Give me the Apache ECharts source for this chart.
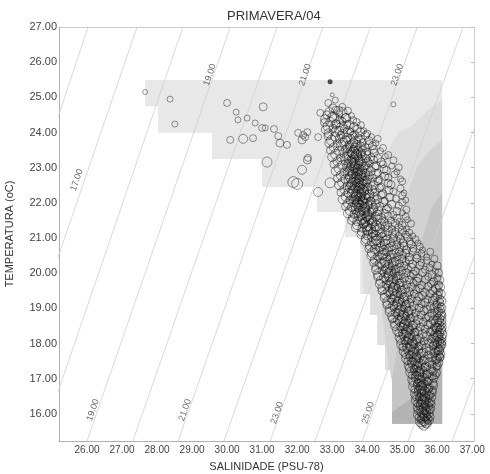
<!DOCTYPE html>
<html>
<head>
<meta charset="utf-8">
<script src="https://cdn.jsdelivr.net/npm/echarts@6/dist/echarts.min.js"></script>
<style>html,body{margin:0;padding:0;background:#fff;}#c{width:490px;height:474px;}</style>
</head>
<body>
<div id="c"></div>
<script>
// ---- axis ticks ----
const xTicks = [26,27,28,29,30,31,32,33,34,35,36,37];
const yTicks = [16,17,18,19,20,21,22,23,24,25,26,27];
const xRange = [25.2, 37.05];
const yRange = [15.23, 27];

// ---- isopycnals (sigma-t), salinity where each line meets the bottom and top of the plot ----
const isoSigma   = [16, 17, 18, 19, 20, 21, 22, 23, 24, 25, 26, 27];
const isoSBottom = [22.09, 23.37, 24.69, 26.0, 27.31, 28.6, 29.91, 31.23, 32.51, 33.86, 35.17, 36.43];
const isoSTop    = [26.03, 27.43, 28.74, 30.09, 31.43, 32.74, 34.09, 35.43, 36.74, 38.09, 39.4, 40.71];

// ---- isopycnal labels ----
const isoLabelText = ['17.00', '19.00', '21.00', '23.00', '19.00', '21.00', '23.00', '25.00'];
const isoLabelS    = [25.71, 29.51, 32.23, 34.86, 26.17, 28.8, 31.43, 34.03];
const isoLabelT    = [22.65, 25.64, 25.64, 25.64, 16.11, 16.11, 16.03, 16.03];

// ---- grey shaded background levels (S,T vertices) ----
const shadeOuter = [[27.66,25.49],[36.14,25.49],[36.14,15.72],[34.71,15.72],[34.71,17.25],[34.51,17.25],[34.51,17.96],[34.29,17.96],[34.29,18.81],[34.09,18.81],[34.09,19.41],[33.8,19.41],[33.8,21.03],[33.37,21.03],[33.37,21.74],[32.57,21.74],[32.57,22.45],[31.0,22.45],[31.0,23.25],[29.57,23.25],[29.57,23.99],[28.03,23.99],[28.03,24.75],[27.66,24.75]];
const shadeLevel2 = [[36.14,24.93],[35.74,24.64],[35.29,24.19],[34.89,23.99],[34.6,23.5],[34.31,22.79],[34.03,21.94],[33.86,21.09],[33.86,20.3],[33.9,19.41],[34.09,19.41],[34.09,18.81],[34.29,18.81],[34.29,17.96],[34.51,17.96],[34.51,17.25],[34.71,17.25],[34.71,15.72],[36.14,15.72]];
const shadeLevel3 = [[36.14,23.79],[35.8,23.5],[35.46,23.08],[35.23,22.51],[35.0,21.66],[34.8,20.8],[34.55,19.8],[34.42,18.9],[34.51,18.2],[34.62,17.4],[34.71,16.9],[34.71,15.72],[36.14,15.72]];
const shadeLevel4 = [[36.14,22.3],[35.86,21.9],[35.6,21.1],[35.35,20.2],[35.1,19.2],[34.92,18.3],[34.8,17.5],[34.71,17.0],[34.71,15.72],[36.14,15.72]];
const shadeLevel5 = [[36.14,18.6],[35.95,17.9],[35.65,17.1],[35.2,16.4],[34.71,16.05],[34.71,15.72],[36.14,15.72]];
const shadeColors = ['#e8e8e8', '#dedede', '#d2d2d2', '#c5c5c5', '#b3b3b3'];

// ---- observations: [salinity, temperature, circle size] ----
const sparseObs = [
[27.66,25.15,5],[28.37,24.95,6],[28.51,24.24,6],[30.0,24.84,7],[30.26,24.58,6],[30.31,24.36,6],[30.57,24.41,6],
[30.8,24.27,6],[31.0,24.13,7],[31.09,24.13,6],[31.34,24.1,7],[31.46,23.9,7],[31.51,23.7,8],[31.71,23.65,7],
[31.03,24.73,8],[30.09,23.79,7],[30.46,23.82,9],[30.74,23.84,7],[31.14,23.16,10],[32.0,22.54,11],[31.89,22.59,11],
[32.14,22.94,9],[32.6,22.31,9],[32.94,22.57,10],[32.31,23.28,7],[32.23,23.87,7],[32.6,23.87,7],[32.66,24.56,7],
[33.0,25.07,4],[32.14,23.79,8],[32.17,23.93,7],[32.29,23.22,8],[32.03,23.99,7],[32.29,24.01,7],[34.75,24.8,5]
];
const filledObs = [[32.94,25.44,5]];
const bandObs = [
[32.89,24.84,7],[33.09,24.92,6],[33.29,24.73,7],[33.02,24.7,8],[33.18,24.62,9],
[32.85,24.5,8],[33.0,24.45,9],[33.2,24.52,7],[33.38,24.42,8],[33.55,24.48,6],
[32.78,24.28,8],[32.95,24.3,9],[33.12,24.25,8],[33.3,24.32,7],[33.48,24.22,9],[33.7,24.3,7],
[32.82,24.08,9],[33.02,24.12,8],[33.2,24.05,9],[33.35,24.1,8],[33.52,24.02,7],[33.72,24.1,8],[33.9,24.05,6],
[32.88,23.9,8],[33.08,23.88,9],[33.25,23.92,8],[33.42,23.85,9],[33.58,23.9,8],[33.75,23.86,7],[33.95,23.92,8],[34.12,23.88,6],
[32.92,23.7,9],[33.15,23.68,8],[33.32,23.72,9],[33.48,23.65,8],[33.6,23.7,9],[33.72,23.66,8],[33.88,23.72,7],[34.05,23.66,8],[34.25,23.7,6],
[32.95,23.5,8],[33.2,23.48,9],[33.38,23.52,8],[33.52,23.46,9],[33.62,23.52,8],[33.74,23.48,9],[33.86,23.5,8],[34.0,23.45,7],[34.18,23.52,8],[34.38,23.48,6],
[33.0,23.3,9],[33.25,23.28,8],[33.42,23.32,9],[33.55,23.26,8],[33.64,23.32,9],[33.75,23.28,8],[33.85,23.33,9],[33.97,23.26,8],[34.12,23.3,7],[34.3,23.27,8],[34.52,23.32,6],
[33.05,23.1,8],[33.3,23.08,9],[33.45,23.12,8],[33.56,23.06,9],[33.65,23.12,10],[33.74,23.07,8],[33.83,23.12,9],[33.95,23.06,8],[34.08,23.12,7],[34.25,23.06,8],[34.45,23.1,7],[34.7,23.05,6],
[33.1,22.9,9],[33.35,22.88,8],[33.5,22.92,9],[33.6,22.86,10],[33.68,22.92,9],[33.76,22.87,8],[33.85,22.93,9],[33.96,22.86,8],[34.1,22.9,9],[34.3,22.86,7],[34.55,22.92,8],[34.85,22.88,6],
[33.15,22.7,8],[33.38,22.68,9],[33.52,22.72,10],[33.62,22.66,9],[33.7,22.72,10],[33.78,22.67,9],[33.88,22.73,8],[34.0,22.66,9],[34.15,22.7,8],[34.35,22.66,7],[34.6,22.72,7],[34.95,22.68,6],
[33.2,22.5,9],[33.42,22.48,8],[33.55,22.52,10],[33.64,22.46,9],[33.72,22.52,10],[33.8,22.47,9],[33.9,22.53,9],[34.02,22.46,8],[34.18,22.5,9],[34.4,22.46,7],[34.68,22.52,8],
[33.25,22.3,8],[33.46,22.28,9],[33.58,22.32,10],[33.67,22.26,9],[33.75,22.32,10],[33.83,22.27,9],[33.93,22.33,8],[34.06,22.26,9],[34.22,22.3,8],[34.45,22.26,8],[34.75,22.32,7],[35.05,22.28,6],
[33.3,22.1,9],[33.5,22.08,8],[33.62,22.12,10],[33.7,22.06,9],[33.78,22.12,10],[33.87,22.07,9],[33.97,22.13,9],[34.1,22.06,8],[34.28,22.1,9],[34.5,22.06,7],[34.82,22.12,7],[35.1,22.08,6],
[33.38,21.9,8],[33.56,21.88,9],[33.67,21.92,10],[33.76,21.86,9],[33.84,21.92,10],[33.93,21.87,9],[34.04,21.93,8],[34.18,21.86,9],[34.36,21.9,8],[34.6,21.86,7],[34.9,21.92,7],
[33.45,21.7,9],[33.62,21.68,8],[33.74,21.72,10],[33.83,21.66,9],[33.92,21.72,10],[34.02,21.67,9],[34.14,21.73,8],[34.3,21.66,9],[34.5,21.7,8],[34.75,21.66,7],[35.0,21.72,6],
[33.55,21.5,8],[33.72,21.48,9],[33.84,21.52,10],[33.94,21.46,9],[34.04,21.52,9],[34.16,21.47,8],[34.3,21.53,9],[34.48,21.46,8],[34.68,21.5,7],[34.92,21.46,7],[35.15,21.52,6],
[33.68,21.3,9],[33.85,21.28,8],[33.98,21.32,9],[34.1,21.26,9],[34.22,21.32,8],[34.36,21.27,9],[34.52,21.33,8],[34.7,21.26,7],[34.9,21.3,8],[35.12,21.26,6],
[33.82,21.1,8],[34.0,21.08,9],[34.14,21.12,8],[34.26,21.06,9],[34.4,21.12,8],[34.55,21.07,9],[34.72,21.13,8],[34.9,21.06,7],[35.1,21.1,7],[35.3,21.06,6],
[33.95,20.9,9],[34.12,20.88,8],[34.25,20.92,9],[34.38,20.86,8],[34.52,20.92,9],[34.68,20.87,8],[34.85,20.93,7],[35.02,20.86,8],[35.22,20.9,7],[35.45,20.86,6],
[34.05,20.7,8],[34.22,20.68,9],[34.35,20.72,8],[34.48,20.66,9],[34.62,20.72,8],[34.78,20.67,9],[34.95,20.73,7],[35.12,20.66,8],[35.32,20.7,7],[35.58,20.66,6],
[34.12,20.5,9],[34.3,20.48,8],[34.44,20.52,9],[34.56,20.46,8],[34.7,20.52,9],[34.86,20.47,8],[35.02,20.53,7],[35.2,20.46,8],[35.42,20.5,7],[35.7,20.46,6],
[34.18,20.3,8],[34.36,20.28,9],[34.5,20.32,9],[34.62,20.26,8],[34.76,20.32,9],[34.92,20.27,8],[35.1,20.33,7],[35.3,20.26,8],[35.55,20.3,7],[35.85,20.26,6],
[34.25,20.1,9],[34.42,20.08,8],[34.56,20.12,10],[34.68,20.06,9],[34.82,20.12,8],[34.98,20.07,9],[35.16,20.13,7],[35.38,20.06,8],[35.65,20.1,7],[35.95,20.06,6],
[34.3,19.9,8],[34.48,19.88,9],[34.62,19.92,10],[34.74,19.86,9],[34.88,19.92,8],[35.05,19.87,9],[35.24,19.93,7],[35.46,19.86,8],[35.74,19.9,7],[36.0,19.86,7],
[34.36,19.7,9],[34.54,19.68,8],[34.68,19.72,10],[34.8,19.66,9],[34.94,19.72,8],[35.12,19.67,8],[35.32,19.73,7],[35.56,19.66,8],[35.82,19.7,7],[36.04,19.66,8],
[34.42,19.5,8],[34.6,19.48,9],[34.74,19.52,10],[34.86,19.46,9],[35.0,19.52,8],[35.18,19.47,9],[35.4,19.53,7],[35.64,19.46,8],[35.88,19.5,8],[36.06,19.46,7],
[34.5,19.3,9],[34.68,19.28,8],[34.8,19.32,10],[34.92,19.26,9],[35.06,19.32,9],[35.25,19.27,8],[35.48,19.33,8],[35.72,19.26,7],[35.94,19.3,8],[36.08,19.26,8],
[34.56,19.1,8],[34.74,19.08,9],[34.86,19.12,10],[34.98,19.06,9],[35.12,19.12,8],[35.32,19.07,9],[35.55,19.13,7],[35.8,19.06,8],[35.98,19.1,8],[36.1,19.06,7],
[34.64,18.9,9],[34.8,18.88,8],[34.92,18.92,10],[35.04,18.86,9],[35.18,18.92,9],[35.38,18.87,8],[35.62,18.93,8],[35.85,18.86,8],[36.02,18.9,9],[36.12,18.86,8],
[34.72,18.7,8],[34.88,18.68,9],[35.0,18.72,10],[35.1,18.66,9],[35.24,18.72,8],[35.45,18.67,9],[35.68,18.73,7],[35.9,18.66,9],[36.04,18.7,10],[36.12,18.66,9],
[34.8,18.5,9],[34.95,18.48,8],[35.06,18.52,10],[35.16,18.46,9],[35.3,18.52,9],[35.52,18.47,8],[35.74,18.53,8],[35.94,18.46,9],[36.05,18.5,10],[36.13,18.46,9],
[34.9,18.3,8],[35.02,18.28,9],[35.12,18.32,10],[35.22,18.26,9],[35.36,18.32,8],[35.58,18.27,9],[35.8,18.33,8],[35.96,18.26,10],[36.06,18.3,9],[36.13,18.26,10],
[34.96,18.1,9],[35.08,18.08,8],[35.18,18.12,10],[35.28,18.06,9],[35.42,18.12,9],[35.62,18.07,8],[35.84,18.13,8],[35.98,18.06,10],[36.07,18.1,9],[36.14,18.06,8],
[35.02,17.9,8],[35.14,17.88,9],[35.24,17.92,10],[35.34,17.86,9],[35.48,17.92,8],[35.68,17.87,9],[35.88,17.93,8],[36.0,17.86,10],[36.08,17.9,9],
[35.1,17.7,9],[35.2,17.68,8],[35.3,17.72,10],[35.4,17.66,9],[35.55,17.72,9],[35.74,17.67,8],[35.92,17.73,9],[36.03,17.66,9],[36.1,17.7,8],
[35.16,17.5,8],[35.28,17.48,9],[35.36,17.52,10],[35.46,17.46,9],[35.6,17.52,8],[35.78,17.47,9],[35.95,17.53,8],[36.05,17.46,8],
[35.22,17.3,9],[35.34,17.28,8],[35.42,17.32,10],[35.52,17.26,9],[35.65,17.32,8],[35.82,17.27,9],[35.98,17.33,7],
[35.28,17.1,8],[35.4,17.08,9],[35.48,17.12,10],[35.57,17.06,9],[35.7,17.12,8],[35.86,17.07,8],[35.96,17.1,7],
[35.32,16.9,9],[35.44,16.88,8],[35.52,16.92,10],[35.6,16.86,9],[35.72,16.92,8],[35.88,16.87,8],
[35.36,16.7,8],[35.48,16.68,9],[35.55,16.72,10],[35.63,16.66,9],[35.75,16.72,8],[35.88,16.67,7],
[35.4,16.5,9],[35.5,16.48,8],[35.57,16.52,10],[35.65,16.46,9],[35.76,16.52,8],[35.86,16.47,7],
[35.44,16.3,8],[35.53,16.28,9],[35.6,16.32,10],[35.67,16.26,9],[35.77,16.32,8],[35.84,16.27,7],
[35.47,16.1,9],[35.55,16.08,10],[35.62,16.12,10],[35.69,16.06,9],[35.78,16.12,8],
[35.5,15.9,9],[35.58,15.88,10],[35.65,15.92,10],[35.72,15.86,9],[35.8,15.92,8],
[35.55,15.72,9],[35.62,15.68,10],[35.7,15.72,9]
];
const bandObs2 = [
[32.92,24.58,9],[33.1,24.63,8],[33.28,24.57,10],[33.45,24.62,7],
[32.8,24.38,9],[33.05,24.43,10],[33.22,24.36,8],[33.4,24.41,9],[33.6,24.35,7],
[32.88,24.18,10],[33.1,24.23,9],[33.28,24.16,10],[33.42,24.22,8],[33.62,24.15,9],[33.82,24.21,7],
[32.9,23.98,9],[33.12,24.03,10],[33.3,23.96,9],[33.46,24.02,10],[33.64,23.95,8],[33.8,24.01,9],[34.0,23.97,7],
[32.98,23.78,10],[33.22,23.83,9],[33.38,23.76,10],[33.52,23.82,9],[33.66,23.75,10],[33.82,23.81,8],[34.05,23.77,8],[34.3,23.82,7],
[33.05,23.58,9],[33.26,23.63,10],[33.44,23.56,9],[33.56,23.62,11],[33.68,23.55,10],[33.8,23.61,9],[33.95,23.57,8],[34.15,23.62,8],[34.45,23.56,7],
[33.1,23.38,10],[33.32,23.43,9],[33.48,23.36,10],[33.6,23.42,11],[33.7,23.35,10],[33.82,23.41,9],[33.95,23.37,10],[34.2,23.42,8],[34.6,23.36,7],
[33.15,23.18,9],[33.38,23.23,10],[33.52,23.16,11],[33.62,23.22,10],[33.72,23.15,11],[33.84,23.21,10],[34.0,23.17,9],[34.18,23.22,8],[34.4,23.16,8],[34.75,23.21,7],
[33.2,22.98,10],[33.42,23.03,9],[33.55,22.96,11],[33.66,23.02,10],[33.76,22.95,11],[33.88,23.01,10],[34.02,22.97,9],[34.2,23.02,9],[34.48,22.96,8],[34.9,23.01,7],
[33.25,22.78,9],[33.46,22.83,10],[33.58,22.76,11],[33.7,22.82,10],[33.8,22.75,11],[33.92,22.81,10],[34.05,22.77,9],[34.24,22.82,9],[34.5,22.76,8],[34.78,22.81,7],
[33.3,22.58,10],[33.5,22.63,11],[33.6,22.56,10],[33.72,22.62,11],[33.82,22.55,10],[33.95,22.61,10],[34.1,22.57,9],[34.3,22.62,8],[34.6,22.56,8],[35.0,22.61,7],
[33.35,22.38,9],[33.52,22.43,10],[33.64,22.36,11],[33.76,22.42,10],[33.88,22.35,11],[34.0,22.41,10],[34.14,22.37,9],[34.35,22.42,8],[34.62,22.36,8],[34.95,22.41,7],
[33.4,22.18,10],[33.58,22.23,11],[33.68,22.16,10],[33.8,22.22,11],[33.92,22.15,10],[34.05,22.21,10],[34.2,22.17,9],[34.4,22.22,8],[34.65,22.16,8],[35.0,22.21,7],
[33.45,21.98,9],[33.62,22.03,10],[33.74,21.96,11],[33.86,22.02,10],[33.98,21.95,11],[34.1,22.01,10],[34.25,21.97,9],[34.45,22.02,9],[34.7,21.96,8],[35.0,22.01,7],
[33.52,21.78,10],[33.7,21.83,11],[33.8,21.76,10],[33.92,21.82,11],[34.04,21.75,10],[34.16,21.81,9],[34.32,21.77,9],[34.55,21.82,8],[34.85,21.76,8],[35.12,21.81,7],
[33.6,21.58,9],[33.78,21.63,10],[33.9,21.56,11],[34.0,21.62,10],[34.1,21.55,10],[34.24,21.61,9],[34.4,21.57,9],[34.6,21.62,8],[34.85,21.56,8],[35.1,21.61,7],
[33.72,21.38,10],[33.9,21.43,9],[34.02,21.36,10],[34.14,21.42,9],[34.26,21.35,10],[34.4,21.41,9],[34.58,21.37,8],[34.8,21.42,8],[35.0,21.36,8],[35.25,21.41,7],
[33.85,21.18,9],[34.02,21.23,10],[34.16,21.16,9],[34.28,21.22,10],[34.42,21.15,9],[34.6,21.21,9],[34.8,21.17,8],[35.0,21.22,8],[35.2,21.16,7],
[33.98,20.98,10],[34.14,21.03,9],[34.28,20.96,10],[34.42,21.02,9],[34.58,20.95,9],[34.75,21.01,8],[34.95,20.97,8],[35.15,21.02,8],[35.38,20.96,7],
[34.08,20.78,9],[34.24,20.83,10],[34.38,20.76,9],[34.52,20.82,10],[34.68,20.75,9],[34.85,20.81,8],[35.05,20.77,8],[35.25,20.82,8],[35.5,20.76,7],
[34.15,20.58,10],[34.32,20.63,9],[34.46,20.56,10],[34.6,20.62,9],[34.76,20.55,9],[34.92,20.61,8],[35.1,20.57,8],[35.3,20.62,8],[35.55,20.56,7],[35.8,20.61,7],
[34.22,20.38,9],[34.4,20.43,10],[34.54,20.36,11],[34.68,20.42,9],[34.82,20.35,9],[35.0,20.41,8],[35.2,20.37,8],[35.42,20.42,8],[35.7,20.36,7],[35.92,20.41,7],
[34.28,20.18,10],[34.46,20.23,11],[34.6,20.16,10],[34.74,20.22,9],[34.9,20.15,9],[35.06,20.21,8],[35.26,20.17,8],[35.5,20.22,8],[35.78,20.16,7],[36.0,20.21,8],
[34.34,19.98,11],[34.52,20.03,10],[34.66,19.96,11],[34.8,20.02,9],[34.95,19.95,9],[35.12,20.01,8],[35.32,19.97,8],[35.58,20.02,8],[35.86,19.96,8],[36.04,20.01,8],
[34.4,19.78,10],[34.58,19.83,11],[34.72,19.76,10],[34.86,19.82,10],[35.0,19.75,9],[35.2,19.81,8],[35.42,19.77,8],[35.66,19.82,8],[35.9,19.76,8],[36.06,19.81,9],
[34.46,19.58,11],[34.64,19.63,10],[34.78,19.56,11],[34.92,19.62,10],[35.08,19.55,9],[35.26,19.61,8],[35.5,19.57,8],[35.74,19.62,8],[35.96,19.56,9],[36.08,19.61,9],
[34.52,19.38,10],[34.7,19.43,11],[34.84,19.36,10],[34.98,19.42,10],[35.14,19.35,9],[35.34,19.41,8],[35.58,19.37,8],[35.8,19.42,8],[36.0,19.36,9],[36.1,19.41,9],
[34.6,19.18,11],[34.76,19.23,10],[34.9,19.16,11],[35.04,19.22,10],[35.2,19.15,9],[35.42,19.21,8],[35.66,19.17,8],[35.88,19.22,9],[36.04,19.16,10],[36.12,19.21,9],
[34.66,18.98,10],[34.82,19.03,11],[34.96,18.96,10],[35.1,19.02,10],[35.26,18.95,9],[35.48,19.01,8],[35.72,18.97,8],[35.92,19.02,9],[36.06,18.96,10],[36.12,19.01,9],
[34.74,18.78,11],[34.9,18.83,10],[35.02,18.76,11],[35.16,18.82,10],[35.32,18.75,9],[35.54,18.81,8],[35.78,18.77,9],[35.96,18.82,10],[36.08,18.76,10],
[34.8,18.58,10],[34.96,18.63,11],[35.08,18.56,10],[35.2,18.62,10],[35.38,18.55,9],[35.6,18.61,8],[35.82,18.57,9],[35.98,18.62,10],[36.1,18.56,10],
[34.88,18.38,11],[35.02,18.43,10],[35.14,18.36,11],[35.26,18.42,10],[35.44,18.35,9],[35.66,18.41,8],[35.86,18.37,9],[36.0,18.42,10],[36.1,18.36,10],
[34.94,18.18,10],[35.08,18.23,11],[35.2,18.16,10],[35.32,18.22,10],[35.5,18.15,9],[35.7,18.21,9],[35.9,18.17,9],[36.02,18.22,10],[36.12,18.16,9],
[35.0,17.98,11],[35.14,18.03,10],[35.26,17.96,11],[35.38,18.02,10],[35.55,17.95,9],[35.76,18.01,9],[35.92,17.97,9],[36.04,18.02,10],[36.12,17.96,9],
[35.06,17.78,10],[35.2,17.83,11],[35.32,17.76,10],[35.44,17.82,10],[35.6,17.75,9],[35.8,17.81,9],[35.95,17.77,9],[36.06,17.82,9],
[35.14,17.58,11],[35.26,17.63,10],[35.36,17.56,11],[35.48,17.62,10],[35.64,17.55,9],[35.84,17.61,9],[35.98,17.57,9],[36.08,17.62,8],
[35.2,17.38,10],[35.32,17.43,11],[35.42,17.36,10],[35.52,17.42,10],[35.68,17.35,9],[35.86,17.41,8],[36.0,17.37,8],
[35.26,17.18,11],[35.38,17.23,10],[35.46,17.16,11],[35.56,17.22,10],[35.72,17.15,9],[35.88,17.21,8],[35.98,17.17,8],
[35.3,16.98,10],[35.42,17.03,11],[35.5,16.96,10],[35.6,17.02,10],[35.74,16.95,9],[35.9,17.01,8],
[35.34,16.78,11],[35.46,16.83,10],[35.54,16.76,11],[35.62,16.82,10],[35.76,16.75,9],[35.9,16.81,8],
[35.38,16.58,10],[35.5,16.63,11],[35.58,16.56,10],[35.66,16.62,10],[35.78,16.55,9],[35.86,16.61,8],
[35.42,16.38,11],[35.52,16.43,10],[35.6,16.36,11],[35.68,16.42,10],[35.8,16.35,9],
[35.46,16.18,10],[35.56,16.23,11],[35.64,16.16,10],[35.72,16.22,10],[35.8,16.15,9],
[35.48,15.98,11],[35.58,16.03,10],[35.66,15.96,11],[35.74,16.02,10],
[35.52,15.78,10],[35.6,15.83,11],[35.68,15.76,10],[35.76,15.82,9]
];
const coreObs = [
[33.58,23.4,9],[33.7,23.38,10],[33.8,23.2,9],[33.62,23.0,10],[33.72,22.95,9],[33.82,22.8,10],[33.66,22.6,9],[33.76,22.58,10],
[33.86,22.4,9],[33.7,22.2,10],[33.8,22.18,9],[33.9,22.0,10],[33.76,21.96,9],[33.88,21.8,10],[33.98,21.6,9],[33.6,22.82,9],
[33.68,22.42,9],[33.74,22.02,9],[33.95,22.22,9],[33.9,22.62,9],[33.55,23.18,9],[33.65,23.58,9],[33.9,21.4,9],[34.0,21.2,9],
[36.06,18.6,9],[36.1,18.4,9],[36.02,18.2,10],[36.1,18.0,9],[36.04,17.8,9],[36.08,17.6,8],[36.12,18.8,9],[35.98,18.45,9],
[34.6,20.0,9],[34.75,19.6,9],[34.9,19.2,9],[35.05,18.8,9],[35.2,18.4,9],[35.32,18.0,9],[35.42,17.6,9],[35.5,17.2,9],
[35.56,16.8,9],[35.6,16.4,10],[35.62,16.0,10],[35.64,15.8,10]
];

const FONT = 'Liberation Sans, Arial, sans-serif';
const chart = echarts.init(document.getElementById('c'), null, {renderer: 'canvas'});

const shadePolys = [shadeOuter, shadeLevel2, shadeLevel3, shadeLevel4, shadeLevel5];

const isoSeries = isoSigma.map((s, i) => ({
  type: 'line',
  name: 'sigma' + s,
  data: [[isoSBottom[i], yRange[0]], [isoSTop[i], yRange[1]]],
  symbol: 'none',
  lineStyle: {color: '#cfcfcf', width: 0.8},
  silent: true,
  z: 2,
  clip: true,
  animation: false
}));

const circleStyle = {color: 'rgba(0,0,0,0)', borderColor: 'rgba(15,15,15,0.58)', borderWidth: 1};
const sparseStyle = {color: 'rgba(0,0,0,0)', borderColor: 'rgba(40,40,40,0.62)', borderWidth: 1};

chart.setOption({
  animation: false,
  backgroundColor: '#fff',
  title: {
    text: 'PRIMAVERA/04', left: 222, top: 5,
    textStyle: {fontFamily: FONT, fontSize: 13, fontWeight: 'normal', color: '#333'}
  },
  grid: {left: 59, right: 16, top: 27, bottom: 33, containLabel: false, outerBoundsMode: 'none'},
  xAxis: [{
    type: 'value', min: xRange[0], max: xRange[1],
    name: 'SALINIDADE (PSU-78)', nameLocation: 'middle', nameGap: 20,
    nameTextStyle: {fontFamily: FONT, fontSize: 11, color: '#333'},
    axisLine: {show: true, lineStyle: {color: '#b0b0b0'}},
    axisTick: {show: false},
    splitLine: {show: false},
    axisLabel: {customValues: xTicks, formatter: v => v.toFixed(2), fontFamily: FONT, fontSize: 10, color: '#444', margin: 4}
  }, {
    type: 'value', position: 'top', min: xRange[0], max: xRange[1],
    axisLine: {show: true, lineStyle: {color: '#cccccc'}},
    axisTick: {show: false}, axisLabel: {show: false}, splitLine: {show: false}
  }],
  yAxis: [{
    type: 'value', min: yRange[0], max: yRange[1],
    name: 'TEMPERATURA (oC)', nameLocation: 'middle', nameGap: 44,
    nameTextStyle: {fontFamily: FONT, fontSize: 11, color: '#333'},
    axisLine: {show: true, lineStyle: {color: '#b0b0b0'}},
    axisTick: {show: false},
    splitLine: {show: false},
    axisLabel: {customValues: yTicks, formatter: v => v.toFixed(2), fontFamily: FONT, fontSize: 11, color: '#444', margin: 2}
  }, {
    type: 'value', position: 'right', min: yRange[0], max: yRange[1],
    axisLine: {show: true, lineStyle: {color: '#cccccc'}},
    axisTick: {show: true, inside: true, length: 3, customValues: yTicks, lineStyle: {color: '#bbbbbb'}},
    axisLabel: {show: false}, splitLine: {show: false}
  }],
  series: [
    {
      type: 'custom', name: 'shade', silent: true, z: 1, clip: true,
      data: shadePolys.map(p => p[0]),
      renderItem: (params, api) => {
        const poly = shadePolys[params.dataIndex];
        return {
          type: 'polygon',
          shape: {points: poly.map(p => api.coord(p))},
          style: {fill: shadeColors[params.dataIndex], stroke: null}
        };
      }
    },
    ...isoSeries,
    {
      type: 'scatter', name: 'sparse', data: sparseObs, symbol: 'circle',
      symbolSize: v => v[2], itemStyle: sparseStyle, silent: true, z: 3
    },
    {
      type: 'scatter', name: 'band', data: bandObs.concat(bandObs2, coreObs), symbol: 'circle',
      symbolSize: v => v[2], itemStyle: circleStyle, silent: true, z: 3, large: false
    },
    {
      type: 'scatter', name: 'filled', data: filledObs, symbol: 'circle',
      symbolSize: v => v[2], itemStyle: {color: '#222'}, silent: true, z: 3
    },
    {
      type: 'scatter', name: 'isoLabels', silent: true, z: 4,
      data: isoLabelText.map((t, i) => ({value: [isoLabelS[i], isoLabelT[i]], name: t})),
      symbolSize: 0,
      label: {show: true, position: 'inside', rotate: 71, formatter: p => p.name,
        fontFamily: FONT, fontSize: 9, color: '#444'}
    }
  ]
});
</script>
</body>
</html>
